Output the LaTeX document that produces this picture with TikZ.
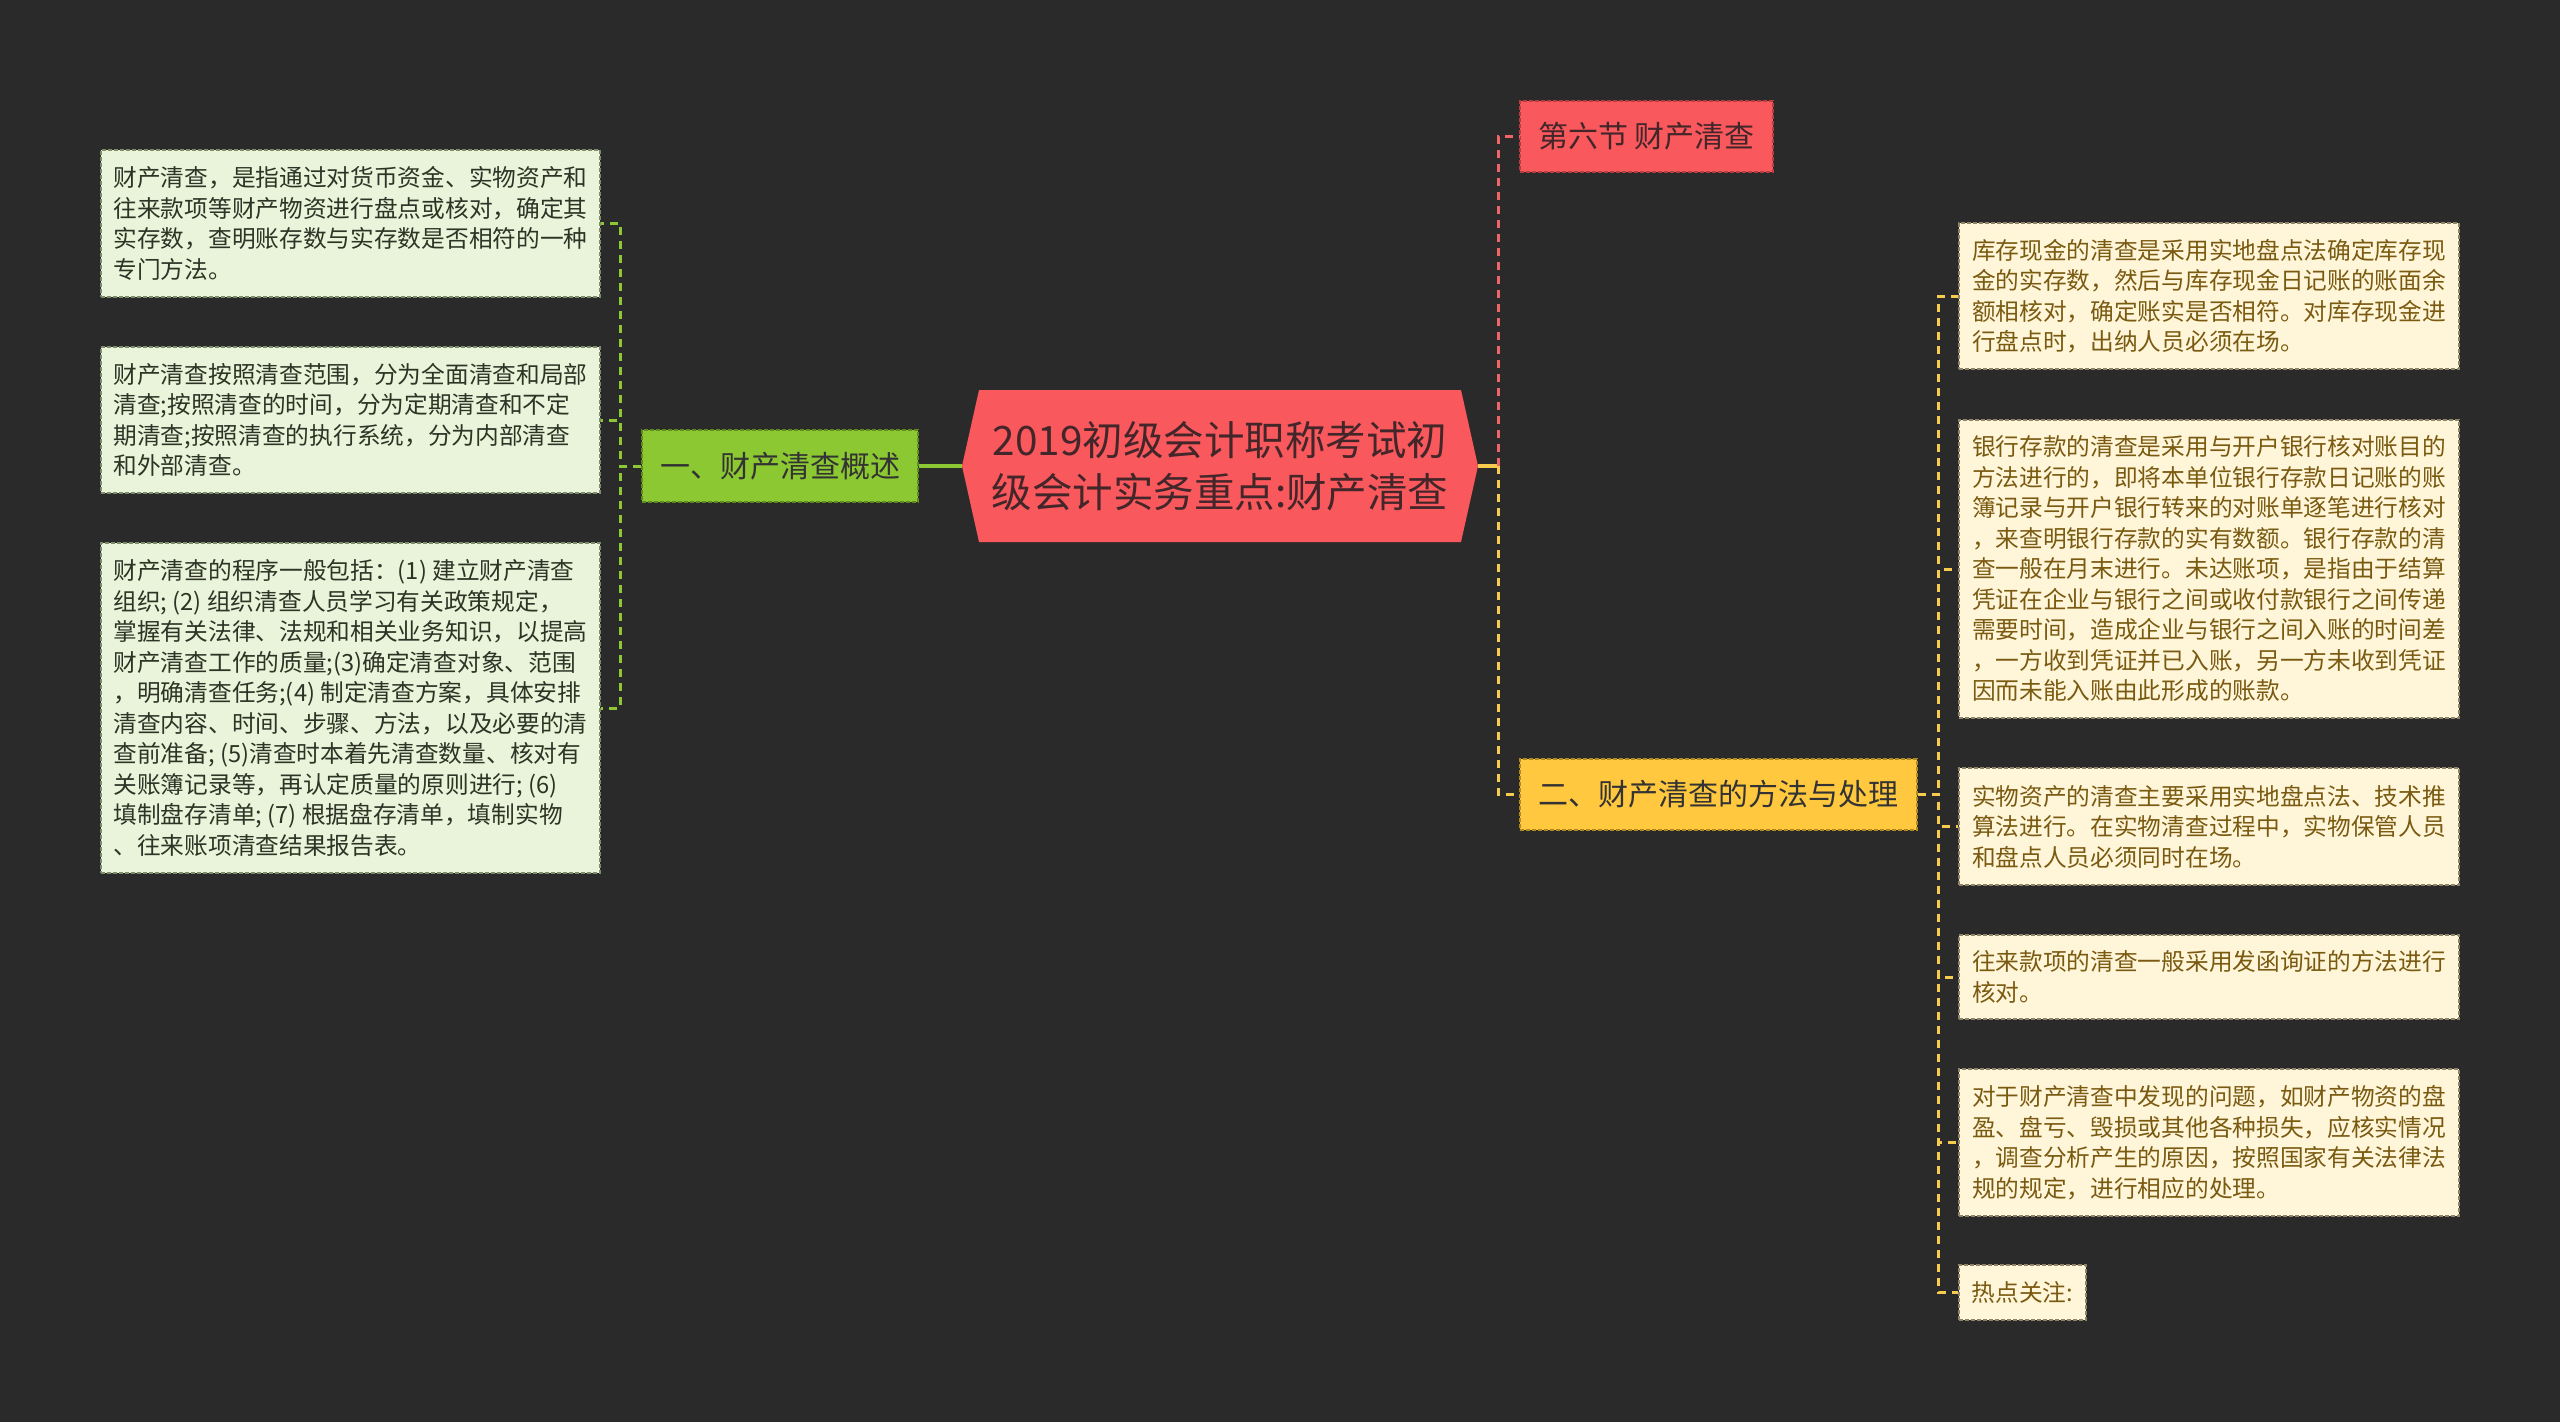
\documentclass[tikz,border=0pt]{standalone}
\usepackage{fontspec}
\setmainfont{Noto Sans CJK SC}
\usetikzlibrary{calc}
\definecolor{bg}{HTML}{2A2A2A}
\definecolor{lgfill}{HTML}{EAF4DA}
\definecolor{lgline}{HTML}{7E8C6C}
\definecolor{ltext}{HTML}{2E3326}
\definecolor{cream}{HTML}{FFF6DA}
\definecolor{creamline}{HTML}{8E8468}
\definecolor{rtext}{HTML}{7A5A10}
\definecolor{gfill}{HTML}{8BC832}
\definecolor{gline}{HTML}{5E8A1E}
\definecolor{yfill}{HTML}{FFC83E}
\definecolor{yline}{HTML}{B38A20}
\definecolor{rfill}{HTML}{F9585C}
\definecolor{rline}{HTML}{B83C40}
\definecolor{darktext}{HTML}{333333}
\definecolor{redtext}{HTML}{42262A}
\definecolor{gconn}{HTML}{8BC832}
\definecolor{yconn}{HTML}{F7CB4D}
\definecolor{rconn}{HTML}{F26468}
\begin{document}
\begin{tikzpicture}[x=1pt,y=-1pt,
  box/.style={rectangle, inner sep=0pt, dash pattern=on 4pt off 2pt, line width=1.5pt, align=left},
  lbox/.style={box, fill=lgfill, draw=lgline, text=ltext, minimum width=499pt, font=\fontsize{23.7}{30.5}\selectfont},
  rbox/.style={box, fill=cream, draw=creamline, text=rtext, minimum width=500pt, font=\fontsize{23.7}{30.5}\selectfont},
  topic/.style={box, font=\fontsize{30}{36}\selectfont, minimum height=71pt},
  conn/.style={line width=3pt, dash pattern=on 8pt off 6pt}]
\fill[bg] (0,0) rectangle (2560,1422);
\useasboundingbox (0,0) rectangle (2560,1422);

% left detail boxes
\node[lbox, minimum height=147pt] (L1) at (350.5,223.5) {财产清查，是指通过对货币资金、实物资产和\\往来款项等财产物资进行盘点或核对，确定其\\实存数，查明账存数与实存数是否相符的一种\\专门方法。};
\node[lbox, minimum height=146pt] (L2) at (350.5,420) {财产清查按照清查范围，分为全面清查和局部\\清查;按照清查的时间，分为定期清查和不定\\期清查;按照清查的执行系统，分为内部清查\\和外部清查。};
\node[lbox, minimum height=330pt] (L3) at (350.5,708) {财产清查的程序一般包括：(1) 建立财产清查\\组织; (2) 组织清查人员学习有关政策规定，\\掌握有关法律、法规和相关业务知识，以提高\\财产清查工作的质量;(3)确定清查对象、范围\\，明确清查任务;(4) 制定清查方案，具体安排\\清查内容、时间、步骤、方法，以及必要的清\\查前准备; (5)清查时本着先清查数量、核对有\\关账簿记录等，再认定质量的原则进行; (6)\\填制盘存清单; (7) 根据盘存清单，填制实物\\、往来账项清查结果报告表。};

% topic nodes
\node[topic, fill=gfill, draw=gline, text=darktext, minimum width=276pt, minimum height=72pt] (G) at (780,466) {一、财产清查概述};
\node[topic, fill=rfill, draw=rline, text=redtext, minimum width=253pt] (T) at (1646.5,136.5) {第六节 财产清查};
\node[topic, fill=yfill, draw=yline, text=darktext, minimum width=397pt] (Y) at (1718.5,794.5) {二、财产清查的方法与处理};

% central node
\fill[rfill] (962,466) -- (979,390) -- (1461,390) -- (1478,466) -- (1461,542) -- (979,542) -- cycle;
\node[inner sep=0pt, minimum width=516pt, minimum height=152pt, align=center, text=redtext, font=\fontsize{40.5}{52}\selectfont] (C) at (1220,466) {2019初级会计职称考试初\\级会计实务重点:财产清查};

% right detail boxes
\node[rbox, minimum height=146pt] (R1) at (2209,296) {库存现金的清查是采用实地盘点法确定库存现\\金的实存数，然后与库存现金日记账的账面余\\额相核对，确定账实是否相符。对库存现金进\\行盘点时，出纳人员必须在场。};
\node[rbox, minimum height=298pt] (R2) at (2209,569) {银行存款的清查是采用与开户银行核对账目的\\方法进行的，即将本单位银行存款日记账的账\\簿记录与开户银行转来的对账单逐笔进行核对\\，来查明银行存款的实有数额。银行存款的清\\查一般在月末进行。未达账项，是指由于结算\\凭证在企业与银行之间或收付款银行之间传递\\需要时间，造成企业与银行之间入账的时间差\\，一方收到凭证并已入账，另一方未收到凭证\\因而未能入账由此形成的账款。};
\node[rbox, minimum height=117pt] (R3) at (2209,826.5) {实物资产的清查主要采用实地盘点法、技术推\\算法进行。在实物清查过程中，实物保管人员\\和盘点人员必须同时在场。};
\node[rbox, minimum height=84pt] (R4) at (2209,977) {往来款项的清查一般采用发函询证的方法进行\\核对。};
\node[rbox, minimum height=147pt] (R5) at (2209,1142.5) {对于财产清查中发现的问题，如财产物资的盘\\盈、盘亏、毁损或其他各种损失，应核实情况\\，调查分析产生的原因，按照国家有关法律法\\规的规定，进行相应的处理。};
\node[rbox, minimum width=127pt, minimum height=55pt] (R6) at (2022.5,1292.5) {热点关注:};

% connectors
\draw[gconn, line width=4pt] (G.east) -- (C.west);
\foreach \n in {L1,L2,L3} \draw[conn, draw=gconn] (G.west) -- ++(-21,0) |- (\n.east);
\draw[yconn, line width=3.5pt] (C.east) -- ++(20,0) coordinate (cj);
\draw[conn, draw=rconn] (cj) |- (T.west);
\draw[conn, draw=yconn] (cj) |- (Y.west);
\foreach \n in {R1,R2,R3,R4,R5,R6} \draw[conn, draw=yconn] (Y.east) -- ++(21,0) |- (\n.west);
\end{tikzpicture}
\end{document}
